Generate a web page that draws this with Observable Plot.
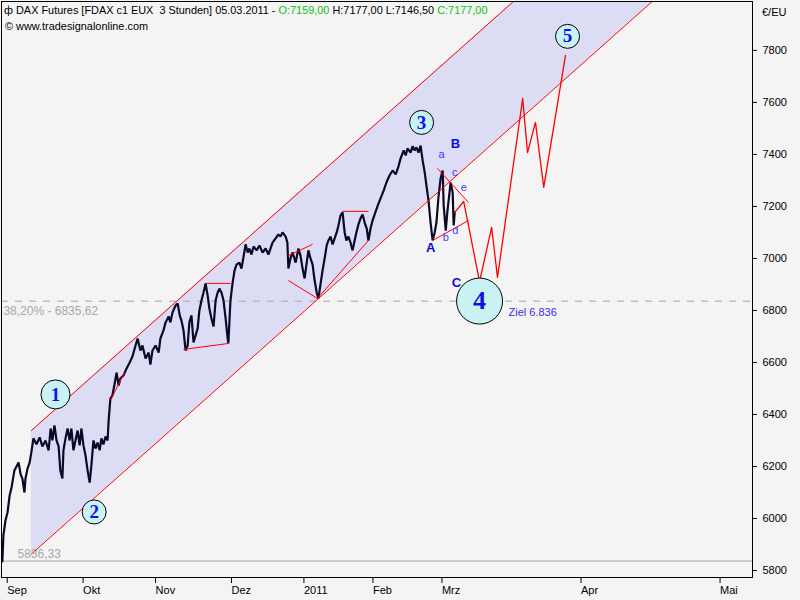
<!DOCTYPE html>
<html><head><meta charset="utf-8">
<script src="https://cdn.jsdelivr.net/npm/d3@7"></script>
<script src="https://cdn.jsdelivr.net/npm/@observablehq/plot@0.6"></script>
<style>
body{margin:0;background:#f4f4f4;}
#chart{position:relative;width:800px;height:600px;}
</style></head><body><div id="chart"></div>
<script>
// x values: trading-day index from 1 Sep 2010
const monthTicks = [0, 22, 43, 65, 86, 106, 126, 166.3, 206.6];
const monthLabels = ["Sep","Okt","Nov","Dez","2011","Feb","Mrz","Apr","Mai"];
const priceTicks = [5800,6000,6200,6400,6600,6800,7000,7200,7400,7600,7800];

const priceDay = [-1.4,-1.1,-0.5,0.1,0.7,1.2,2.1,2.7,3.3,3.9,4.4,5.0,5.3,5.9,6.5,7.0,7.6,8.5,9.4,10.2,
11.1,12.0,12.6,13.1,13.7,14.3,14.9,15.4,16.0,16.3,16.9,17.5,18.1,18.6,19.2,19.8,20.4,21.0,21.5,22.1,
22.7,23.3,23.9,24.4,25.0,25.6,26.2,26.8,27.3,27.9,28.5,29.1,29.4,29.9,30.5,31.1,31.7,32.3,32.8,33.7,
34.6,35.5,36.3,37.2,37.8,38.6,39.2,40.1,41.0,41.5,42.1,43.0,43.9,44.4,45.3,45.9,46.8,47.3,47.9,48.8,
49.4,50.0,50.5,51.1,51.7,52.3,52.8,53.4,54.0,54.6,55.2,55.7,56.3,56.9,57.5,58.1,58.6,59.2,59.8,60.4,
61.0,61.5,62.1,62.7,63.3,63.9,64.1,64.7,65.3,65.9,66.5,67.3,67.9,68.5,69.1,69.7,70.2,70.8,71.4,72.3,
73.1,74.0,74.9,75.7,76.3,76.9,77.8,78.6,79.2,79.8,80.7,81.2,81.5,82.1,82.7,83.6,84.4,85.0,85.6,86.2,
86.8,87.3,87.9,88.5,89.1,89.7,90.2,90.8,91.4,92.0,92.6,93.1,93.7,94.3,94.9,95.5,96.0,96.6,97.2,97.8,
98.3,98.9,99.5,100.1,100.7,101.2,101.8,102.4,103.0,103.6,104.2,104.7,105.3,105.9,106.5,107.3,108.2,109.1,109.9,110.8,
111.7,112.6,113.4,114.0,114.9,115.5,116.0,116.9,117.5,118.1,118.6,119.2,119.8,120.4,121.0,121.5,122.1,122.7,123.3,123.9,
124.4,125.0,125.6,126.2,126.5,127.1,127.6,128.2,128.5,129.1,129.4,129.7];
const priceValue = [5835,5935,5992,6023,6088,6115,6185,6200,6215,6169,6154,6100,6154,6192,6215,6254,6308,6285,6312,6277,
6300,6262,6346,6300,6358,6300,6277,6185,6154,6262,6308,6346,6300,6346,6262,6300,6338,6281,6346,6281,
6242,6185,6138,6204,6300,6269,6292,6262,6308,6285,6315,6300,6377,6461,6473,6515,6561,6511,6538,6550,
6577,6600,6623,6665,6692,6646,6665,6615,6638,6592,6646,6665,6638,6692,6723,6754,6777,6754,6792,6819,
6827,6781,6761,6723,6646,6665,6754,6781,6677,6704,6731,6800,6838,6869,6904,6857,6807,6769,6738,6838,
6869,6884,6869,6838,6769,6692,6673,6838,6904,6954,6977,6984,6961,7007,7054,7023,7038,7015,7046,7031,
7050,7023,7038,7015,7038,7061,7077,7092,7084,7100,7084,7061,6961,7000,7023,6984,7038,7011,6961,6923,
6984,7031,7000,6977,6915,6869,6846,6900,6954,7000,7050,7069,7084,7054,7077,7100,7127,7165,7177,7100,
7069,7084,7061,7031,7069,7100,7131,7154,7169,7138,7115,7069,7115,7146,7169,7200,7231,7261,7292,7319,
7338,7323,7354,7384,7415,7396,7423,7407,7431,7415,7427,7407,7434,7377,7331,7281,7223,7138,7069,7100,
7138,7238,7307,7338,7204,7107,7184,7254,7292,7254,7127,7177];

// Elliott wave forecast path
const forecastDay = [129.7,132.3,136.9,140.4,142.1,149.4,150.8,153.1,155.5,161.8];
const forecastValue = [7177,7219,6911,7119,6927,7615,7407,7523,7273,7781];

// trend channel
const channelDay = [7.0, 187.1];
const channelLow = [5863, 7990];
const channelHigh = [6338, 8465];

// pattern lines [day1, price1, day2, price2]
const patternSegments = [
  [29.9, 6454, 34.0, 6561],
  [57.5, 6904, 64.7, 6904],
  [51.1, 6650, 64.1, 6673],
  [81.5, 7011, 88.5, 7054],
  [81.5, 6915, 89.9, 6846],
  [89.9, 6846, 104.7, 7069],
  [97.2, 7181, 104.7, 7181],
  [124.7, 7346, 133.7, 7215],
  [123.3, 7069, 133.7, 7146]
];

const fibLevels = [5836.33, 6835.62];
const fibLabels = ["5836,33", "38,20% - 6835,62"];

const waveLabels = ["1","2","3","4","5"];
const waveDay = [14.0, 25.2, 120.1, 136.9, 162.4];
const waveValue = [6477, 6025, 7523, 6836, 7854];

const abcLabels = ["A","B","C"];
const abcDay = [122.7, 129.9, 130.2];
const abcValue = [7042, 7442, 6908];

const subLabels = ["a","b","c","d","e"];
const subDay = [125.9, 127.1, 129.7, 129.9, 132.3];
const subValue = [7400, 7081, 7331, 7107, 7273];

const targetText = "Ziel 6.836";
const targetDay = 145.3;
const targetValue = 6792;

const price = priceDay.map((d, i) => ({d, p: priceValue[i]}));
const forecast = forecastDay.map((d, i) => ({d, p: forecastValue[i]}));
const channel = channelDay.map((d, i) => ({d, lo: channelLow[i], hi: channelHigh[i]}));
const segs = patternSegments.map(s => ({x1: s[0], y1: s[1], x2: s[2], y2: s[3]}));
const waves = waveLabels.map((l, i) => ({l, d: waveDay[i], p: waveValue[i]}));
const abc = abcLabels.map((l, i) => ({l, d: abcDay[i], p: abcValue[i]}));
const sub = subLabels.map((l, i) => ({l, d: subDay[i], p: subValue[i]}));

const F = "Liberation Sans, Arial, sans-serif";
const SERIF = "Liberation Serif, Times New Roman, serif";
const chart = Plot.plot({
  width: 800, height: 600,
  marginTop: 1, marginBottom: 23, marginLeft: 1, marginRight: 48,
  style: {background: "#f4f4f4", fontFamily: F, fontSize: "11px", color: "#000"},
  x: {domain: [-1.65, 216.0]},
  y: {domain: [5773, 7988]},
  r: {type: "identity"},
  marks: [
    Plot.areaY(channel, {x: "d", y1: "lo", y2: "hi", fill: "#dcdcf5", clip: true}),
    Plot.ruleY([fibLevels[0]], {stroke: "#a8a8a8", strokeWidth: 1}),
    Plot.ruleY([fibLevels[1]], {stroke: "#a8a8a8", strokeWidth: 1, strokeDasharray: "7,7"}),
    Plot.text([fibLabels[0]], {x: 3.0, y: fibLevels[0], text: d => d, textAnchor: "start", dy: -7, fill: "#a8a8a8", fontSize: 12}),
    Plot.text([fibLabels[1]], {x: -1.1, y: fibLevels[1], text: d => d, textAnchor: "start", dy: 10, fill: "#a8a8a8", fontSize: 12}),
    Plot.line(price, {x: "d", y: "p", stroke: "#0a0a26", strokeWidth: 2.2, strokeLinejoin: "miter"}),
    Plot.line(channel, {x: "d", y: "lo", stroke: "#ff0000", strokeWidth: 1, clip: true}),
    Plot.line(channel, {x: "d", y: "hi", stroke: "#ff0000", strokeWidth: 1, clip: true}),
    Plot.link(segs, {x1: "x1", y1: "y1", x2: "x2", y2: "y2", stroke: "#ff0000", strokeWidth: 1}),
    Plot.line(forecast, {x: "d", y: "p", stroke: "#ff0000", strokeWidth: 1.3}),
    Plot.dot(waves, {x: "d", y: "p", r: d => d.l === "4" ? 23 : (d.l === "1" ? 14.5 : 12), fill: "#c8f2f4", stroke: "#000", strokeWidth: 1}),
    Plot.text(waves, {x: "d", y: "p", text: "l", fill: "#1010e8", fontWeight: "bold",
      fontFamily: SERIF, fontSize: d => d.l === "4" ? 26 : 19}),
    Plot.text(abc, {x: "d", y: "p", text: "l", fill: "#0a0ae0", fontWeight: "bold", fontSize: 13}),
    Plot.text(sub, {x: "d", y: "p", text: "l", fill: "#3a3aff", fontSize: 11}),
    Plot.text([targetText], {x: targetDay, y: targetValue, text: d => d, textAnchor: "start", fill: "#3a2aee", fontSize: 11}),
    Plot.axisY({anchor: "right", ticks: priceTicks, tickSize: 4, tickPadding: 6, tickFormat: d => String(d), label: null, fontSize: 11}),
    Plot.axisX({ticks: monthTicks, tickSize: 6, tickPadding: 3, textAnchor: "start", dx: 0,
      tickFormat: d => monthLabels[monthTicks.indexOf(d)], label: null, fontSize: 11}),
    Plot.frame({stroke: "#000", strokeWidth: 1})
  ]
});
document.getElementById("chart").appendChild(chart);

const svg = d3.select(chart);
const hdr = svg.append("text").attr("x", 4).attr("y", 14).attr("text-anchor", "start")
  .attr("font-family", F).attr("font-size", 10.9).attr("fill", "#000");
hdr.append("tspan").text("ф ");
hdr.append("tspan").text("DAX Futures [FDAX c1 EUX\u00a0\u00a03 Stunden] 05.03.2011 - ");
hdr.append("tspan").attr("fill", "#10c010").text("O:7159,00");
hdr.append("tspan").text(" H:7177,00 L:7146,50 ");
hdr.append("tspan").attr("fill", "#10c010").text("C:7177,00");
svg.append("text").attr("x", 5).attr("y", 30).attr("text-anchor", "start").attr("font-family", F).attr("font-size", 10.9)
  .attr("fill", "#000").text("© www.tradesignalonline.com");
svg.append("text").attr("x", 762).attr("y", 16).attr("text-anchor", "start").attr("font-family", F).attr("font-size", 11)
  .attr("fill", "#000").text("€/EU");
</script></body></html>
